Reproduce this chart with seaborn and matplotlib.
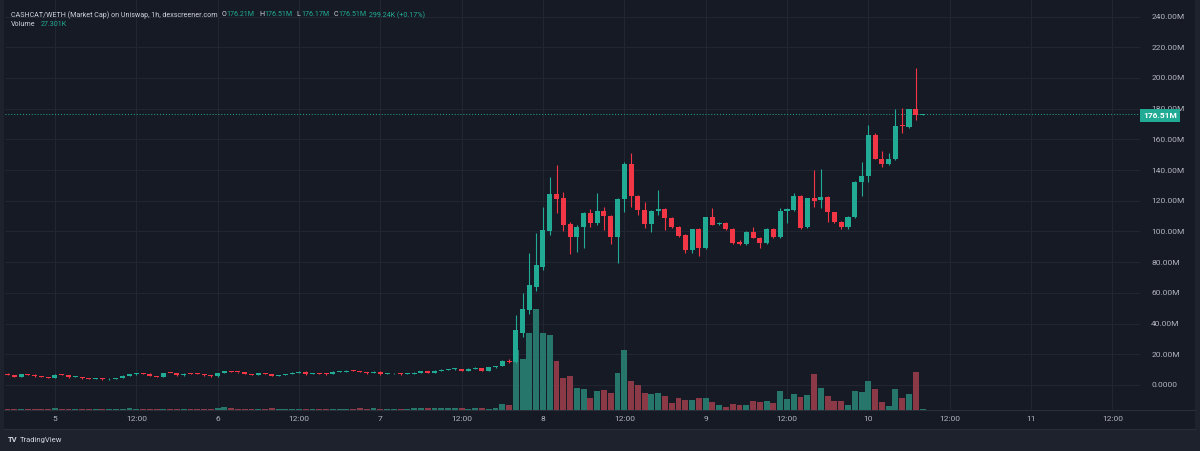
import numpy as np
import pandas as pd
import matplotlib
matplotlib.use("Agg")
import matplotlib.pyplot as plt
from matplotlib.patches import Rectangle
from matplotlib.lines import Line2D
import seaborn as sns

# --- data: hourly candles, hour 0 = day 8 00:00 (market cap in millions) ---
hours = np.arange(-79, 57)

opens = [
    7.2, 6.6, 5.4, 6.9, 6.7, 5.6, 5.0, 4.6, 6.7, 6.6,
    5.0, 5.3, 4.3, 3.9, 4.5, 3.6, 4.2, 4.4, 6.1, 6.9,
    7.5, 7.4, 5.9, 5.1, 7.8, 7.7, 6.2, 7.3, 7.2, 7.1,
    6.3, 5.6, 7.6, 8.9, 8.5, 8.3, 7.2, 6.5, 7.6, 7.2,
    5.9, 6.6, 7.0, 8.0, 8.6, 7.0, 7.4, 7.3, 7.0, 8.6,
    8.7, 9.3, 8.9, 8.4, 7.6, 8.6, 7.0, 7.5, 7.8, 7.0,
    7.3, 8.1, 8.9, 8.0, 9.3, 10.0, 10.2, 10.4, 9.1, 10.6,
    11.1, 9.3, 11.5, 12.4, 15.8,
    15.2, 34.0, 49.0, 64.0, 77.0, 100.0, 124.4, 121.8, 104.9, 96.4,
    102.9, 112.1, 105.5, 113.4, 110.1, 96.4, 121.2, 144.0, 123.1, 114.0,
    104.9, 113.4, 114.7, 108.8, 102.9, 97.7, 87.9, 101.6, 89.3, 109.4,
    104.9, 105.5, 101.6, 93.2, 91.9, 99.7, 95.8, 92.5, 101.6, 96.4,
    113.4, 114.0, 123.1, 102.9, 121.8, 120.5, 122.5, 112.7, 106.2, 102.9,
    109.4, 132.2, 136.2, 162.9, 147.5, 144.2, 147.5, 169.0, 168.3, 179.6,
    176.21,
]
highs = [
    7.5, 6.8, 7.1, 7.2, 6.9, 5.9, 5.2, 6.9, 7.0, 6.8,
    5.6, 5.5, 4.5, 4.7, 4.7, 4.4, 4.7, 6.3, 7.1, 7.8,
    7.8, 7.6, 6.1, 8.0, 8.1, 7.9, 7.5, 7.6, 7.5, 7.3,
    6.5, 7.8, 9.1, 9.4, 8.7, 8.5, 7.4, 7.8, 7.9, 7.4,
    6.8, 7.3, 8.2, 8.9, 8.8, 7.6, 7.6, 7.5, 8.8, 8.9,
    9.8, 9.5, 9.1, 8.6, 8.8, 8.8, 7.7, 8.0, 8.0, 7.5,
    8.3, 9.1, 9.2, 9.5, 10.2, 10.6, 11.0, 10.6, 10.8, 11.9,
    11.3, 11.7, 12.7, 16.3, 17.2,
    45.6, 60.0, 86.0, 99.0, 116.0, 135.5, 143.3, 125.7, 106.0, 104.0,
    113.0, 114.5, 125.1, 116.0, 111.0, 122.0, 145.0, 151.1, 124.0, 119.0,
    114.0, 127.0, 115.3, 109.4, 103.6, 98.5, 101.6, 102.5, 109.4, 115.3,
    106.5, 106.0, 102.0, 94.5, 100.3, 102.9, 96.5, 102.0, 102.3, 115.3,
    115.0, 125.1, 123.8, 122.0, 140.1, 140.7, 123.0, 113.0, 106.8, 109.8,
    133.0, 145.5, 169.4, 164.0, 152.6, 150.9, 179.6, 180.2, 179.6, 206.3,
    176.51,
]
lows = [
    6.4, 5.2, 5.3, 6.5, 5.4, 4.9, 4.4, 4.5, 6.4, 4.8,
    4.9, 4.2, 3.7, 3.8, 3.4, 3.5, 4.0, 4.3, 6.0, 6.8,
    7.2, 5.7, 4.9, 5.0, 7.5, 6.0, 6.1, 7.0, 6.9, 6.1,
    5.4, 5.5, 7.5, 8.3, 8.1, 7.0, 6.3, 6.4, 7.0, 5.7,
    5.8, 6.5, 6.9, 7.9, 6.8, 6.9, 7.1, 6.8, 6.9, 8.4,
    8.6, 8.8, 8.2, 7.4, 7.5, 6.8, 6.9, 7.3, 6.8, 6.9,
    7.2, 8.0, 7.9, 7.9, 9.2, 9.9, 9.9, 8.9, 9.0, 10.5,
    9.1, 9.2, 11.3, 12.2, 14.6,
    14.5, 31.0, 46.0, 61.0, 75.0, 98.0, 112.0, 100.0, 85.3, 86.6,
    89.5, 103.0, 104.5, 101.0, 92.0, 79.5, 112.9, 116.2, 110.7, 102.3,
    99.7, 110.7, 101.0, 102.3, 96.4, 86.0, 85.8, 84.0, 88.5, 104.2,
    104.0, 101.0, 92.0, 91.2, 91.2, 95.5, 89.3, 92.0, 96.0, 96.0,
    105.5, 113.5, 101.5, 102.3, 116.0, 115.3, 106.2, 105.5, 101.4, 101.4,
    108.5, 123.1, 132.4, 147.0, 141.8, 143.5, 146.5, 164.0, 167.5, 172.6,
    176.17,
]
closes = [
    6.6, 5.4, 6.9, 6.7, 5.6, 5.0, 4.6, 6.7, 6.6, 5.0,
    5.3, 4.3, 3.9, 4.5, 3.6, 4.2, 4.4, 6.1, 6.9, 7.5,
    7.4, 5.9, 5.1, 7.8, 7.7, 6.2, 7.3, 7.2, 7.1, 6.3,
    5.6, 7.6, 8.9, 8.5, 8.3, 7.2, 6.5, 7.6, 7.2, 5.9,
    6.6, 7.0, 8.0, 8.6, 7.0, 7.4, 7.3, 7.0, 8.6, 8.7,
    9.3, 8.9, 8.4, 7.6, 8.6, 7.0, 7.5, 7.8, 7.0, 7.3,
    8.1, 8.9, 8.0, 9.3, 10.0, 10.2, 10.4, 9.1, 10.6, 11.1,
    9.3, 11.5, 12.4, 15.8, 15.2,
    36.0, 49.5, 65.0, 78.0, 101.0, 124.4, 121.2, 104.2, 96.5, 102.9,
    112.1, 105.5, 113.4, 110.1, 96.4, 121.2, 144.0, 123.1, 114.0, 104.9,
    113.4, 114.7, 108.8, 102.9, 97.1, 87.9, 101.6, 89.3, 109.4, 104.2,
    105.5, 101.6, 92.5, 91.9, 99.7, 95.8, 92.5, 101.6, 96.4, 113.4,
    114.7, 123.1, 102.3, 121.8, 119.9, 122.5, 112.7, 106.2, 102.9, 109.4,
    132.2, 136.2, 162.9, 147.5, 144.2, 147.5, 169.0, 168.5, 179.6, 176.21,
    176.51,
]
volume = [
    0.7, 0.9, 0.6, 0.5, 0.8, 0.7, 0.9, 1.4, 0.6, 0.8,
    0.5, 1.0, 0.7, 0.6, 0.9, 0.7, 0.6, 0.8, 1.1, 0.9,
    0.6, 0.9, 0.8, 1.0, 0.7, 0.9, 0.8, 0.6, 0.7, 0.8,
    0.9, 1.2, 1.8, 1.3, 0.8, 1.0, 0.9, 0.7, 0.8, 1.1,
    0.7, 0.9, 0.8, 1.0, 0.6, 0.8, 0.7, 0.9, 0.8, 0.7,
    1.0, 0.9, 1.1, 0.8, 1.2, 0.9, 0.7, 0.8, 0.9, 0.8,
    1.1, 1.3, 1.2, 1.4, 1.3, 1.2, 1.5, 1.1, 1.0, 1.3,
    1.2, 0.9, 1.6, 4.0, 3.3,
    42.3, 36.0, 54.3, 71.2, 54.3, 52.9, 34.5, 22.6, 24.0, 15.5,
    14.6, 8.5, 13.4, 13.9, 12.2, 25.9, 42.1, 20.2, 17.4, 11.8,
    11.3, 12.2, 9.7, 4.7, 8.2, 6.8, 6.8, 8.2, 8.2, 5.6,
    3.3, 2.3, 4.4, 3.3, 3.5, 6.1, 5.6, 6.6, 4.9, 13.2,
    7.5, 11.3, 9.0, 10.8, 25.4, 15.5, 9.7, 6.6, 6.6, 3.5,
    13.2, 12.7, 20.7, 14.6, 5.6, 3.0, 14.6, 8.2, 11.3, 27.0,
    0.4,
]

price_ticks = [0, 20, 40, 60, 80, 100, 120, 140, 160, 180, 200, 220, 240]
price_labels = ["0.0000"] + [f"{v:.2f}M" for v in price_ticks[1:]]
time_ticks = [-72, -60, -48, -36, -24, -12, 0, 12, 24, 36, 48, 60, 72, 84]
time_labels = ["5", "12:00", "6", "12:00", "7", "12:00", "8", "12:00",
               "9", "12:00", "10", "12:00", "11", "12:00"]
last_price = 176.51

# --- colours ---
BG = "#161a25"
FRAME = "#1e222d"
GRID = "#222633"
TXT = "#d1d4dc"
AXT = "#b2b5be"
UP = "#22ab94"
DOWN = "#f23645"
VOL_UP = "#26766b"
VOL_DOWN = "#8b3946"

sns.set_style("dark", rc={"axes.facecolor": BG, "figure.facecolor": FRAME,
                          "axes.edgecolor": BG, "grid.color": GRID})
plt.rcParams["font.family"] = ["Roboto", "DejaVu Sans"]

df = pd.DataFrame({"hour": hours, "open": opens, "high": highs, "low": lows,
                   "close": closes, "volume": volume})
df["side"] = np.where(df["close"] >= df["open"], "up", "down")

W, H = 1200, 451
fig = plt.figure(figsize=(W / 100, H / 100), dpi=100)


def fx(px):
    return px / W


def fy(py):
    return 1 - py / H


# chart panel background
fig.add_artist(Rectangle((fx(4), fy(429)), fx(1195) - fx(4), fy(0) - fy(429),
                         transform=fig.transFigure, facecolor=BG, edgecolor="none", zorder=-5))
fig.add_artist(Line2D([fx(4), fx(1195)], [fy(410), fy(410)], transform=fig.transFigure,
                      color="#2a2e39", linewidth=0.8, zorder=-4))
fig.add_artist(Line2D([fx(4), fx(1195)], [fy(429), fy(429)], transform=fig.transFigure,
                      color="#2a2e39", linewidth=0.8, zorder=-4))

ax_vol = fig.add_axes([fx(5), fy(410), fx(1140) - fx(5), fy(0) - fy(410)])
ax_vol.set_facecolor(BG)

# volume bars
sns.barplot(data=df, x="hour", y="volume", hue="side", hue_order=["up", "down"],
            palette={"up": VOL_UP, "down": VOL_DOWN}, native_scale=True, width=0.87,
            saturation=1, dodge=False, errorbar=None, legend=False, linewidth=0, ax=ax_vol)

ax = ax_vol.twinx()

# price grid drawn under the volume bars
ax_vol.hlines(price_ticks, 0, 1, transform=ax.get_yaxis_transform(), colors=GRID,
              linewidth=0.8, zorder=0.5)
ax_vol.grid(axis="x", color=GRID, linewidth=0.8)
ax_vol.grid(axis="y", visible=False)
ax_vol.set_axisbelow(True)

# candles
cols = np.where(df["side"] == "up", UP, DOWN)
body_lo = np.minimum(df["open"], df["close"])
body_h = np.maximum(np.abs(df["close"] - df["open"]), 0.6)
ax.vlines(df["hour"], df["low"], df["high"], colors=cols, linewidth=0.8, zorder=2)
ax.bar(df["hour"], body_h, bottom=body_lo, width=0.74, color=cols, linewidth=0, zorder=3)
ax.axhline(last_price, color=UP, linestyle=(0, (1, 2)), linewidth=0.7, zorder=1)

ax.set_xlim(-79.37, 88.08)
ax.set_ylim(-16.29, 250.81)
ax_vol.set_ylim(0, 289)

ax.set_yticks(price_ticks)
ax.set_yticklabels(price_labels)
ax.tick_params(axis="y", length=0, pad=8, labelsize=6, labelcolor=AXT)
ax_vol.set_yticks([])
ax_vol.set_xticks(time_ticks)
ax_vol.set_xticklabels(time_labels)
ax_vol.tick_params(axis="x", length=0, pad=4, labelsize=6, labelcolor=AXT)
ax_vol.set_xlabel("")
ax_vol.set_ylabel("")
ax.set_ylabel("")
for a in (ax, ax_vol):
    for s in a.spines.values():
        s.set_visible(False)
ax.grid(False)

# last price tag
fig.text(fx(1143), fy(115.5), "176.51M", ha="left", va="center", color="white",
         fontsize=6, fontweight="bold",
         bbox=dict(boxstyle="square,pad=0.35", facecolor=UP, edgecolor="none"))

# header legend
renderer = fig.canvas.get_renderer()


def chain(x_px, y_px, parts, size):
    x = x_px
    for text, color, gap in parts:
        t = fig.text(fx(x), fy(y_px), text, color=color, fontsize=size,
                     ha="left", va="center")
        bb = t.get_window_extent(renderer)
        x = bb.x1 + gap


probe = fig.text(0, 0, "CASHCAT/WETH (Market Cap) on Uniswap, 1h, dexscreener.com", fontsize=6)
hsize = 6 * 208 / probe.get_window_extent(renderer).width
probe.remove()

chain(11, 15, [
    ("CASHCAT/WETH (Market Cap) on Uniswap, 1h, dexscreener.com", TXT, 4),
    ("O", TXT, 0.5), ("176.21M", UP, 4),
    ("H", TXT, 0.5), ("176.51M", UP, 4),
    ("L", TXT, 0.5), ("176.17M", UP, 4),
    ("C", TXT, 0.5), ("176.51M", UP, 3),
    ("299.24K (+0.17%)", UP, 0),
], hsize)
chain(11, 25, [("Volume", TXT, 5), ("27.301K", UP, 0)], hsize)

# footer
fig.text(fx(8), fy(440), "TV", color=TXT, fontsize=5.5, fontweight="bold", ha="left", va="center")
fig.text(fx(20), fy(440), "TradingView", color=TXT, fontsize=5.5, ha="left", va="center")

fig.savefig("out.png", dpi=100, facecolor=FRAME)
